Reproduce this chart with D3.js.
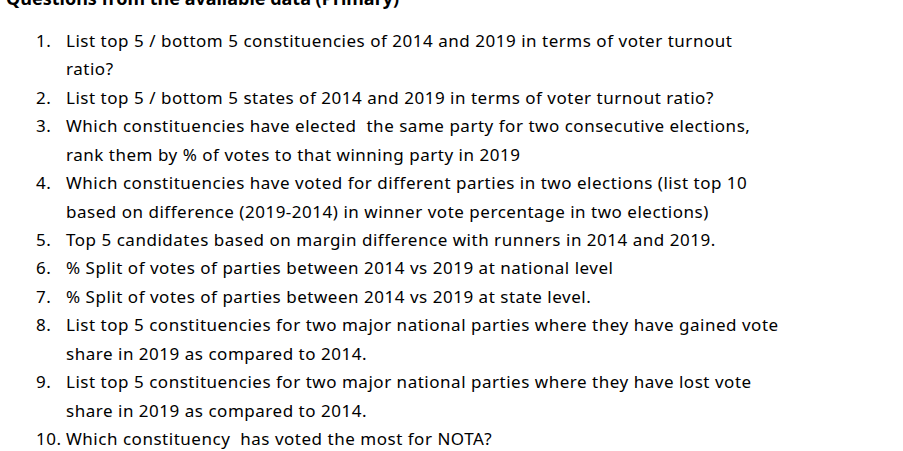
<!DOCTYPE html>
<html>
<head>
<meta charset="utf-8">
<script src="https://cdn.jsdelivr.net/npm/d3@7"></script>
<style>
  body { margin: 0; background: #fff; }
  svg { display: block; }
  text { font-family: "Noto Sans", "Open Sans", sans-serif; fill: #000; }
</style>
</head>
<body>
<svg id="chart" width="903" height="451"></svg>
<script>
var title = "Questions from the available data (Primary)";

var numbers = ["1.", "2.", "3.", "4.", "5.", "6.", "7.", "8.", "9.", "10."];

// each question is split the way the reference wraps it
var questions = [
	["List top 5 / bottom 5 constituencies of 2014 and 2019 in terms of voter turnout", "ratio?"],
	["List top 5 / bottom 5 states of 2014 and 2019 in terms of voter turnout ratio?"],
	["Which constituencies have elected  the same party for two consecutive elections,", "rank them by % of votes to that winning party in 2019"],
	["Which constituencies have voted for different parties in two elections (list top 10", "based on difference (2019-2014) in winner vote percentage in two elections)"],
	["Top 5 candidates based on margin difference with runners in 2014 and 2019."],
	["% Split of votes of parties between 2014 vs 2019 at national level"],
	["% Split of votes of parties between 2014 vs 2019 at state level."],
	["List top 5 constituencies for two major national parties where they have gained vote", "share in 2019 as compared to 2014."],
	["List top 5 constituencies for two major national parties where they have lost vote", "share in 2019 as compared to 2014."],
	["Which constituency  has voted the most for NOTA?"]
];

var fontSize = 17;
var spacing = 0.52;
var svg = d3.select("#chart");

// flatten into rows
var rows = [];
questions.forEach(function(q, i) {
	q.forEach(function(line, j) {
		rows.push({ num: j == 0 ? numbers[i] : "", text: line });
	});
});

var y = d3.scaleLinear().domain([0, rows.length - 1]).range([47, 445]);

svg.append("text")
	.attr("x", 6)
	.attr("y", 5)
	.style("font-size", "18px")
	.style("font-weight", "bold")
	.text(title);

var g = svg.selectAll("g.row").data(rows)
	.enter().append("g").attr("class", "row")
	.attr("transform", function(d, i) { return "translate(0," + y(i) + ")"; });

g.append("text")
	.attr("class", "num")
	.attr("x", 36)
	.style("font-size", fontSize + "px")
	.style("letter-spacing", spacing + "px")
	.text(function(d) { return d.num; });

g.append("text")
	.attr("class", "body")
	.style("font-size", fontSize + "px")
	.style("letter-spacing", spacing + "px")
	.style("white-space", "pre")
	.attr("x", function(d) {
		var w = 0;
		var n = d3.select(this.parentNode).select("text.num").node();
		if (d.num) w = n.getComputedTextLength();
		return Math.max(66, 36 + w + 1);
	})
	.text(function(d) { return d.text; });
</script>
</body>
</html>
